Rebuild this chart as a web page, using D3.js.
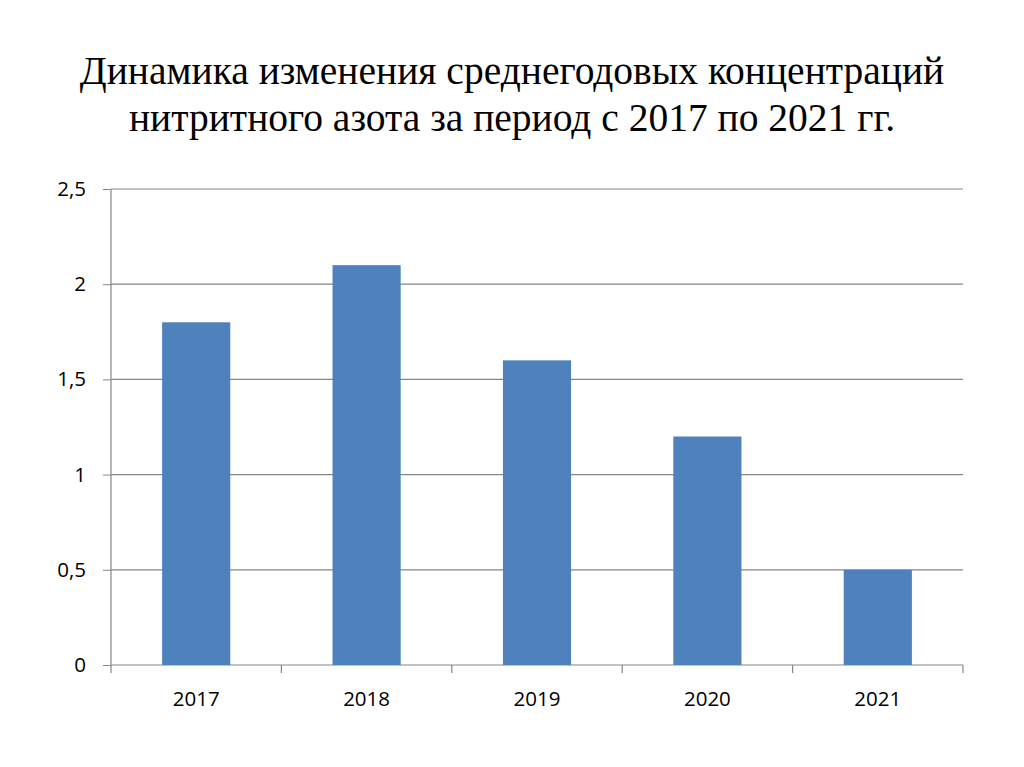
<!DOCTYPE html>
<html><head><meta charset="utf-8">
<script src="https://cdn.jsdelivr.net/npm/d3@7"></script>
<style>body{margin:0;background:#fff}svg{display:block}</style>
</head><body>
<script>
const titleLines = ["Динамика изменения среднегодовых концентраций", "нитритного азота за период с 2017 по 2021 гг."];
const categories = ["2017", "2018", "2019", "2020", "2021"];
const values = [1.8, 2.1, 1.6, 1.2, 0.5];
const yTicks = [0, 0.5, 1, 1.5, 2, 2.5];
const yTickLabels = ["0", "0,5", "1", "1,5", "2", "2,5"];

const W = 1024, H = 767;
const m = {left: 111, right: 1024 - 963, top: 189, bottom: 767 - 665};
const svg = d3.select("body").append("svg").attr("width", W).attr("height", H);

svg.append("g").selectAll("text").data(titleLines).join("text")
  .attr("x", 512).attr("y", (d, i) => 84 + i * 47)
  .attr("text-anchor", "middle")
  .attr("font-family", "'Liberation Serif','Times New Roman',serif")
  .attr("font-size", 39.5).attr("fill", "#000").text(d => d);

const x = d3.scaleBand().domain(categories).range([m.left, W - m.right]).paddingInner(0.6).paddingOuter(0.3);
const y = d3.scaleLinear().domain([0, 2.5]).range([H - m.bottom, m.top]);

const labelFont = "'Open Sans',sans-serif";
const gy = svg.append("g").attr("transform", `translate(${m.left},0)`)
  .call(d3.axisLeft(y).tickValues(yTicks).tickFormat((d, i) => yTickLabels[i]).tickSize(8).tickPadding(17));
gy.select(".domain").remove();
gy.selectAll(".tick line").attr("stroke", "#868686");
gy.selectAll(".tick text").attr("font-family", labelFont).attr("font-size", 20.5).attr("fill", "#000");

svg.append("g").selectAll("line").data(yTicks).join("line")
  .attr("x1", m.left).attr("x2", W - m.right)
  .attr("y1", d => y(d)).attr("y2", d => y(d))
  .attr("stroke", "#868686").attr("stroke-width", 1.2);

svg.append("line").attr("x1", m.left).attr("x2", m.left).attr("y1", y(2.5)).attr("y2", y(0))
  .attr("stroke", "#868686").attr("stroke-width", 1.2);

svg.append("g").selectAll("rect").data(values).join("rect")
  .attr("x", (d, i) => x(categories[i])).attr("width", x.bandwidth())
  .attr("y", d => y(d)).attr("height", d => y(0) - y(d))
  .attr("fill", "#4F81BD");

const step = x.step();
const bounds = d3.range(categories.length + 1).map(i => m.left + i * step);
svg.append("g").selectAll("line").data(bounds).join("line")
  .attr("x1", d => d).attr("x2", d => d).attr("y1", y(0)).attr("y2", y(0) + 8)
  .attr("stroke", "#868686").attr("stroke-width", 1.2);

svg.append("g").selectAll("text").data(categories).join("text")
  .attr("x", d => x(d) + x.bandwidth() / 2).attr("y", 706)
  .attr("text-anchor", "middle")
  .attr("font-family", labelFont).attr("font-size", 20.5).attr("fill", "#000")
  .text(d => d);
</script>
</body></html>
